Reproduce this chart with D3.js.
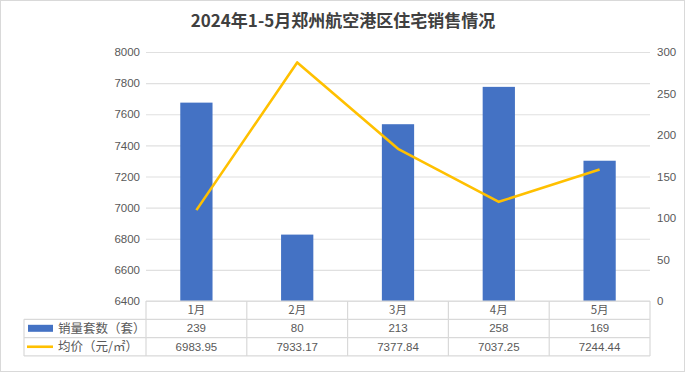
<!DOCTYPE html>
<html>
<head>
<meta charset="utf-8">
<script src="https://cdn.jsdelivr.net/npm/d3@7"></script>
<style>
  body { margin: 0; background: #fff; }
  svg text { font-family: "Noto Sans CJK SC", "Liberation Sans", sans-serif; }
</style>
</head>
<body>
<div id="chart"></div>
<script>
// data
const months = ["1月", "2月", "3月", "4月", "5月"];
const sales = [239, 80, 213, 258, 169];
const prices = [6983.95, 7933.17, 7377.84, 7037.25, 7244.44];
const priceLabels = ["6983.95", "7933.17", "7377.84", "7037.25", "7244.44"];
const leftTicks = [6400, 6600, 6800, 7000, 7200, 7400, 7600, 7800, 8000];
const rightTicks = [0, 50, 100, 150, 200, 250, 300];
const seriesNames = ["销量套数（套）", "均价（元/㎡）"];

const width = 686, height = 373;
const plot = { left: 146, right: 650, top: 52, bottom: 301 };
const tableLeft = 24;
const rowH = 18.3;

const svg = d3.select("#chart").append("svg")
    .attr("width", width)
    .attr("height", height);

// outer frame
svg.append("rect")
    .attr("x", 0.5).attr("y", 0.5)
    .attr("width", width - 2).attr("height", height - 2)
    .attr("fill", "#fff")
    .attr("stroke", "#d9d9d9");

// title
svg.append("text")
    .attr("x", 343).attr("y", 27)
    .attr("text-anchor", "middle")
    .attr("font-size", 17)
    .attr("font-weight", "bold")
    .attr("fill", "#404040")
    .text("2024年1-5月郑州航空港区住宅销售情况");

// scales
const x = d3.scaleBand().domain(months).range([plot.left, plot.right]).paddingInner(0.68).paddingOuter(0.34);
const xc = d3.scaleBand().domain(months).range([plot.left, plot.right]);
const yL = d3.scaleLinear().domain([6400, 8000]).range([plot.bottom, plot.top]);
const yR = d3.scaleLinear().domain([0, 300]).range([plot.bottom, plot.top]);

// gridlines
svg.append("g")
    .attr("transform", `translate(${plot.left},0)`)
    .call(d3.axisLeft(yL).tickValues(leftTicks).tickSize(-(plot.right - plot.left)).tickFormat(""))
    .call(g => g.select(".domain").remove())
    .call(g => g.selectAll("line").attr("stroke", "#e0e0e0").attr("stroke-width", 1.2));

// left axis labels
svg.append("g")
    .attr("transform", `translate(${plot.left - 6},0)`)
    .call(d3.axisLeft(yL).tickValues(leftTicks).tickSize(0).tickPadding(0).tickFormat(d3.format("d")))
    .call(g => g.select(".domain").remove())
    .call(g => g.selectAll("text").attr("fill", "#595959").attr("font-size", 11.5)
        .style("font-family", "'Liberation Sans', sans-serif"));

// right axis labels
svg.append("g")
    .attr("transform", `translate(${plot.right + 7},0)`)
    .call(d3.axisRight(yR).tickValues(rightTicks).tickSize(0).tickPadding(0))
    .call(g => g.select(".domain").remove())
    .call(g => g.selectAll("text").attr("fill", "#595959").attr("font-size", 11.5)
        .style("font-family", "'Liberation Sans', sans-serif"));

// bars
svg.append("g").selectAll("rect")
    .data(sales)
    .join("rect")
    .attr("x", (d, i) => x(months[i]))
    .attr("width", x.bandwidth())
    .attr("y", d => yR(d))
    .attr("height", d => yR(0) - yR(d))
    .attr("fill", "#4472c4");

// line
const line = d3.line()
    .x((d, i) => xc(months[i]) + xc.bandwidth() / 2)
    .y(d => yL(d));

svg.append("path")
    .datum(prices)
    .attr("fill", "none")
    .attr("stroke", "#ffc000")
    .attr("stroke-width", 2.6)
    .attr("stroke-linejoin", "round")
    .attr("d", line);

// data table
const table = svg.append("g");
const gridColor = "#d9d9d9";
const rows = [plot.bottom, plot.bottom + rowH, plot.bottom + 2 * rowH, plot.bottom + 3 * rowH];

// horizontal lines
table.append("line")
    .attr("x1", plot.left).attr("x2", plot.right)
    .attr("y1", rows[0]).attr("y2", rows[0])
    .attr("stroke", gridColor).attr("stroke-width", 1.2);
rows.slice(1).forEach(y => {
    table.append("line")
        .attr("x1", tableLeft).attr("x2", plot.right)
        .attr("y1", y).attr("y2", y)
        .attr("stroke", gridColor).attr("stroke-width", 1.2);
});
// vertical lines
table.append("line")
    .attr("x1", tableLeft).attr("x2", tableLeft)
    .attr("y1", rows[1]).attr("y2", rows[3])
    .attr("stroke", gridColor).attr("stroke-width", 1.2);
months.forEach((m, i) => {
    const xv = xc(m);
    table.append("line")
        .attr("x1", xv).attr("x2", xv)
        .attr("y1", rows[0]).attr("y2", rows[3])
        .attr("stroke", gridColor).attr("stroke-width", 1.2);
});
table.append("line")
    .attr("x1", plot.right).attr("x2", plot.right)
    .attr("y1", rows[0]).attr("y2", rows[3])
    .attr("stroke", gridColor).attr("stroke-width", 1.2);

const cellText = (txt, cx, row) => table.append("text")
    .attr("x", cx).attr("y", rows[row] + rowH / 2 + 4)
    .attr("text-anchor", "middle")
    .attr("font-size", 11.5)
    .attr("fill", "#595959")
    .text(txt);

months.forEach((m, i) => {
    const cx = xc(m) + xc.bandwidth() / 2;
    cellText(m, cx, 0);
    cellText(String(sales[i]), cx, 1).style("font-family", "'Liberation Sans', sans-serif");
    cellText(priceLabels[i], cx, 2).style("font-family", "'Liberation Sans', sans-serif");
});

// legend keys in table
table.append("rect")
    .attr("x", 28).attr("y", rows[1] + 5.5)
    .attr("width", 25).attr("height", 7)
    .attr("fill", "#4472c4");
table.append("line")
    .attr("x1", 27).attr("x2", 53)
    .attr("y1", rows[2] + rowH / 2).attr("y2", rows[2] + rowH / 2)
    .attr("stroke", "#ffc000").attr("stroke-width", 2.6);

seriesNames.forEach((s, i) => {
    table.append("text")
        .attr("x", 58).attr("y", rows[i + 1] + rowH / 2 + 4.5)
        .attr("font-size", 12.5)
        .attr("fill", "#595959")
        .text(s);
});
</script>
</body>
</html>
